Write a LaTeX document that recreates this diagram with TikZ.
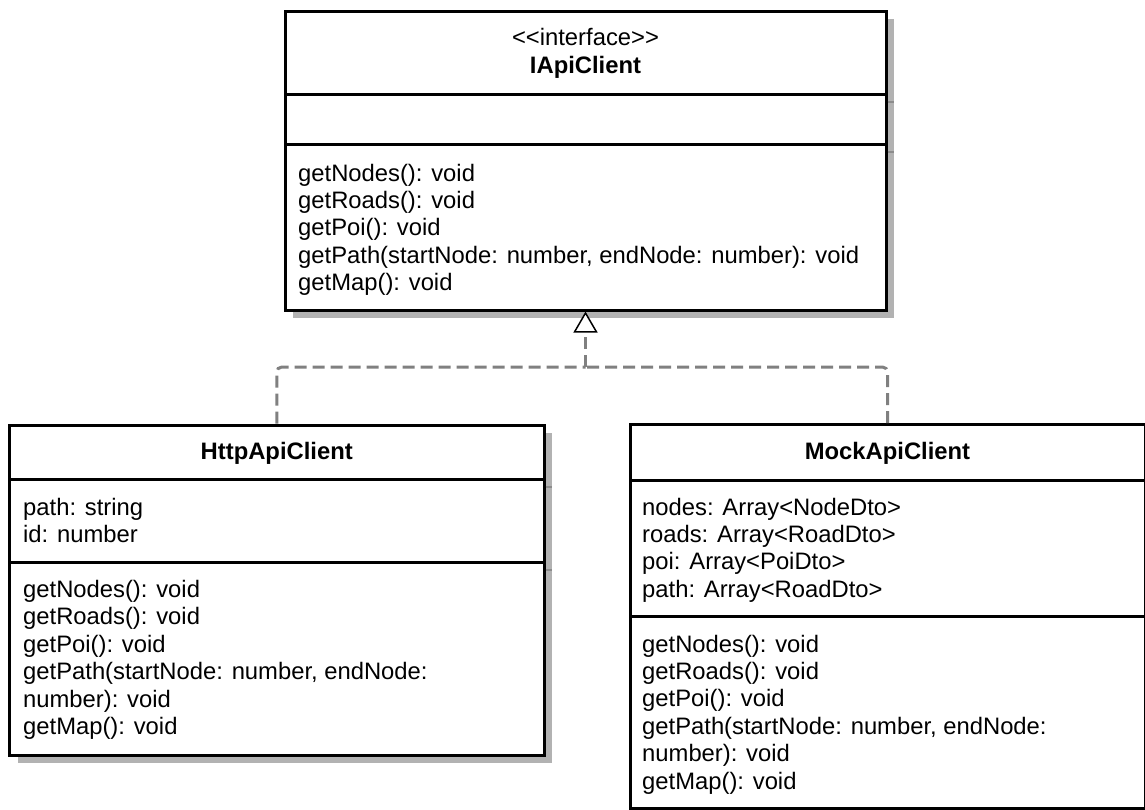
\documentclass[tikz,border=0pt]{standalone}
\usepackage{fontspec}
\newfontfamily\umlfont{Liberation Sans}
\usetikzlibrary{arrows.meta,shadows}

\begin{document}
\begin{tikzpicture}[x=1pt,y=-1pt,
  box/.style={draw=black, line width=3pt, fill=white, inner sep=0pt, rectangle,
    drop shadow={shadow xshift=8pt, shadow yshift=-8pt, fill=black!30, opacity=1}},
  divider/.style={draw=black, line width=3pt},
  shadowstub/.style={draw=black!45, line width=1.5pt},
  entry/.style={anchor=west, inner sep=0pt, text height=17pt, text depth=5pt,
    font=\umlfont\fontsize{23.8}{28}\selectfont},
  stereo/.style={entry, anchor=center},
  title/.style={entry, anchor=center, font=\umlfont\bfseries\fontsize{23.8}{28}\selectfont},
  realize/.style={draw=black!50, line width=3pt, dash pattern=on 12pt off 6pt, rounded corners=5pt},
  hollow/.style={-{Triangle[length=21pt, width=24pt, fill=white, color=black, line width=1.5pt]}}
]
\useasboundingbox (0,0) rectangle (1145,809);
\fill[white] (0,0) rectangle (1145,809);

% ---------- interface IApiClient ----------
\node[box, minimum width=601pt, minimum height=299pt] (iface) at (585.5,160.5) {};
\draw[divider] (285,94) -- (886,94);
\draw[divider] (285,144) -- (886,144);
\draw[shadowstub] (887.5,102) -- (894,102);
\draw[shadowstub] (887.5,152) -- (894,152);
\node[stereo] (ifstereo) at (585.5,39) {<\kern0pt<interface>\kern0pt>};
\node[title] (ifname) at (585.5,67) {IApiClient};
\node[entry] (ifm1) at (298,175) {getNodes(): void};
\node[entry] (ifm2) at (298,202.4) {getRoads(): void};
\node[entry] (ifm3) at (298,229.8) {getPoi(): void};
\node[entry] (ifm4) at (298,257.2) {getPath(startNode: number, endNode: number): void};
\node[entry] (ifm5) at (298,284.6) {getMap(): void};

% ---------- class HttpApiClient ----------
\node[box, minimum width=534.5pt, minimum height=330pt] (http) at (276.75,590) {};
\draw[divider] (9.5,479) -- (544,479);
\draw[divider] (9.5,562) -- (544,562);
\draw[shadowstub] (545.5,487) -- (552,487);
\draw[shadowstub] (545.5,570) -- (552,570);
\node[title] (httpname) at (276.75,453) {HttpApiClient};
\node[entry] (httpa1) at (23,509) {path: string};
\node[entry] (httpa2) at (23,536) {id: number};
\node[entry] (httpm1) at (23,591) {getNodes(): void};
\node[entry] (httpm2) at (23,618.5) {getRoads(): void};
\node[entry] (httpm3) at (23,646) {getPoi(): void};
\node[entry] (httpm4) at (23,673.5) {getPath(startNode: number, endNode:};
\node[entry] (httpm5) at (23,701) {number): void};
\node[entry] (httpm6) at (23,728.5) {getMap(): void};

% ---------- class MockApiClient ----------
\node[box, minimum width=515pt, minimum height=384pt] (mock) at (887.5,616.5) {};
\draw[divider] (630,480) -- (1145,480);
\draw[divider] (630,616) -- (1145,616);
\node[title] (mockname) at (887.5,453) {MockApiClient};
\node[entry] (mocka1) at (642,509) {nodes: Array<NodeDto>};
\node[entry] (mocka2) at (642,536) {roads: Array<RoadDto>};
\node[entry] (mocka3) at (642,563.5) {poi: Array<PoiDto>};
\node[entry] (mocka4) at (642,591) {path: Array<RoadDto>};
\node[entry] (mockm1) at (642,646) {getNodes(): void};
\node[entry] (mockm2) at (642,673) {getRoads(): void};
\node[entry] (mockm3) at (642,700.5) {getPoi(): void};
\node[entry] (mockm4) at (642,728) {getPath(startNode: number, endNode:};
\node[entry] (mockm5) at (642,755.5) {number): void};
\node[entry] (mockm6) at (642,783) {getMap(): void};

% ---------- realization connectors ----------
\path (iface.south) ++(0,55.5) coordinate (join);
\draw[realize] (http.north) |- (join);
\draw[realize] (mock.north) |- (join);
\draw[realize, hollow] (join) -- (iface.south);
\end{tikzpicture}
\end{document}
